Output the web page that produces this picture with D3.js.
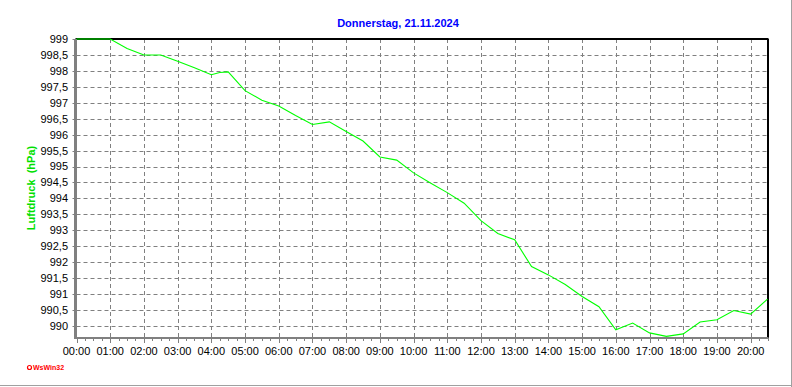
<!DOCTYPE html>
<html>
<head>
<meta charset="utf-8">
<script src="https://cdn.jsdelivr.net/npm/d3@7"></script>
<style>
  html, body { margin: 0; padding: 0; background: #ffffff; }
  svg { display: block; }
  text { font-family: "Liberation Sans", Arial, sans-serif; }
</style>
</head>
<body>
<svg id="chart" width="792" height="387"></svg>
<script>
// ---- data ----
const titleText = "Donnerstag, 21.11.2024";
const yAxisTitle = "Luftdruck  (hPa)";
const times = ["00:00","00:30","01:00","01:30","02:00","02:30","03:00","03:30","04:00","04:15","04:30",
  "05:00","05:30","06:00","06:30","07:00","07:30","08:00","08:30","09:00","09:30","10:00","10:30",
  "11:00","11:30","12:00","12:30","13:00","13:30","14:00","14:30","15:00","15:30","16:00","16:30",
  "17:00","17:30","18:00","18:30","19:00","19:30","20:00","20:30"];
const pressure = [999.0,999.0,999.0,998.7,998.5,998.5,998.3,998.1,997.88,997.95,997.97,
  997.38,997.08,996.9,996.6,996.32,996.4,996.1,995.8,995.3,995.2,994.8,994.48,
  994.18,993.85,993.3,992.9,992.7,991.86,991.6,991.3,990.92,990.6,989.88,990.09,
  989.78,989.67,989.75,990.12,990.19,990.48,990.37,990.84];
const yTicks = [990,990.5,991,991.5,992,992.5,993,993.5,994,994.5,995,995.5,996,996.5,997,997.5,998,998.5,999];
const xTickLabels = ["00:00","01:00","02:00","03:00","04:00","05:00","06:00","07:00","08:00","09:00","10:00",
  "11:00","12:00","13:00","14:00","15:00","16:00","17:00","18:00","19:00","20:00"];

const toMin = s => { const [h, m] = s.split(":").map(Number); return h * 60 + m; };

// ---- layout ----
const L = 76.5, R = 767.5, T = 39, B = 338;
const svg = d3.select("#chart");

const x = d3.scaleLinear().domain([0, 20.5 * 60]).range([L, R]);
const y = d3.scaleLinear().domain([989.62, 999]).range([B, T]);

const grey = "#808080";

// outer frame (right / bottom edges)
svg.append("line").attr("x1", 791.5).attr("x2", 791.5).attr("y1", 0).attr("y2", 387)
  .attr("stroke", "#a0a0a0").attr("stroke-width", 1);
svg.append("line").attr("x1", 0).attr("x2", 792).attr("y1", 385.5).attr("y2", 385.5)
  .attr("stroke", "#a0a0a0").attr("stroke-width", 1);

// horizontal grid
svg.append("g").selectAll("line").data(yTicks.filter(v => v < 999)).join("line")
  .attr("x1", L).attr("x2", R)
  .attr("y1", d => Math.round(y(d)) + 0.5).attr("y2", d => Math.round(y(d)) + 0.5)
  .attr("stroke", grey).attr("stroke-width", 1).attr("stroke-dasharray", "4,3");

// vertical grid
svg.append("g").selectAll("line").data(xTickLabels.slice(1)).join("line")
  .attr("x1", d => Math.round(x(toMin(d))) + 0.5).attr("x2", d => Math.round(x(toMin(d))) + 0.5)
  .attr("y1", T).attr("y2", B)
  .attr("stroke", grey).attr("stroke-width", 1).attr("stroke-dasharray", "4,3");

// top and right borders
svg.append("line").attr("x1", L - 1).attr("x2", R + 1).attr("y1", T).attr("y2", T)
  .attr("stroke", "#000").attr("stroke-width", 2);
svg.append("line").attr("x1", R + 0.5).attr("x2", R + 0.5).attr("y1", T).attr("y2", B)
  .attr("stroke", "#000").attr("stroke-width", 2);

// left axis (thick grey) with small ticks
svg.append("line").attr("x1", L - 1).attr("x2", L - 1).attr("y1", T).attr("y2", B + 1)
  .attr("stroke", grey).attr("stroke-width", 3);
svg.append("g").selectAll("line").data(yTicks).join("line")
  .attr("x1", L - 4).attr("x2", L - 1)
  .attr("y1", d => Math.round(y(d)) + 0.5).attr("y2", d => Math.round(y(d)) + 0.5)
  .attr("stroke", grey).attr("stroke-width", 1);

// bottom axis (thick grey) with ticks
svg.append("line").attr("x1", L - 2).attr("x2", R + 1).attr("y1", B).attr("y2", B)
  .attr("stroke", grey).attr("stroke-width", 2);
const minorTicks = d3.range(0, 20.5 * 60 + 1, 15);
svg.append("g").selectAll("line").data(minorTicks).join("line")
  .attr("x1", d => Math.round(x(d)) + 0.5).attr("x2", d => Math.round(x(d)) + 0.5)
  .attr("y1", B).attr("y2", d => d % 60 === 0 ? B + 5 : B + 3)
  .attr("stroke", grey).attr("stroke-width", 1);

// y tick labels
const fmt = v => Number.isInteger(v) ? String(v) : v.toFixed(1).replace(".", ",");
svg.append("g").selectAll("text").data(yTicks).join("text")
  .attr("x", 68).attr("y", d => y(d)).attr("dy", "0.36em")
  .attr("text-anchor", "end").attr("font-size", 11).attr("fill", "#000")
  .text(fmt);

// x tick labels
svg.append("g").selectAll("text").data(xTickLabels).join("text")
  .attr("x", d => x(toMin(d))).attr("y", 355)
  .attr("text-anchor", "middle").attr("font-size", 11).attr("fill", "#000")
  .text(d => d);

// data line
const line = d3.line().x((d, i) => x(toMin(times[i]))).y(d => y(d));
svg.append("path").datum(pressure).attr("d", line)
  .attr("fill", "none").attr("stroke", "#00ff00").attr("stroke-width", 1.1);

// title
svg.append("text").attr("x", 398).attr("y", 27).attr("text-anchor", "middle")
  .attr("font-size", 11).attr("font-weight", "bold").attr("fill", "#0000ff").text(titleText);

// y axis title
svg.append("text").attr("transform", "translate(35,188) rotate(-90)")
  .attr("text-anchor", "middle").attr("font-size", 11).attr("font-weight", "bold")
  .attr("fill", "#00e000").attr("xml:space", "preserve").style("white-space", "pre").text(yAxisTitle);

// WsWin32 mark
svg.append("circle").attr("cx", 29.5).attr("cy", 367.5).attr("r", 2)
  .attr("fill", "none").attr("stroke", "#ff0000").attr("stroke-width", 1.2);
svg.append("text").attr("x", 33).attr("y", 370).attr("font-size", 7).attr("font-weight", "bold")
  .attr("fill", "#ff0000").text("WsWin32");
</script>
</body>
</html>
